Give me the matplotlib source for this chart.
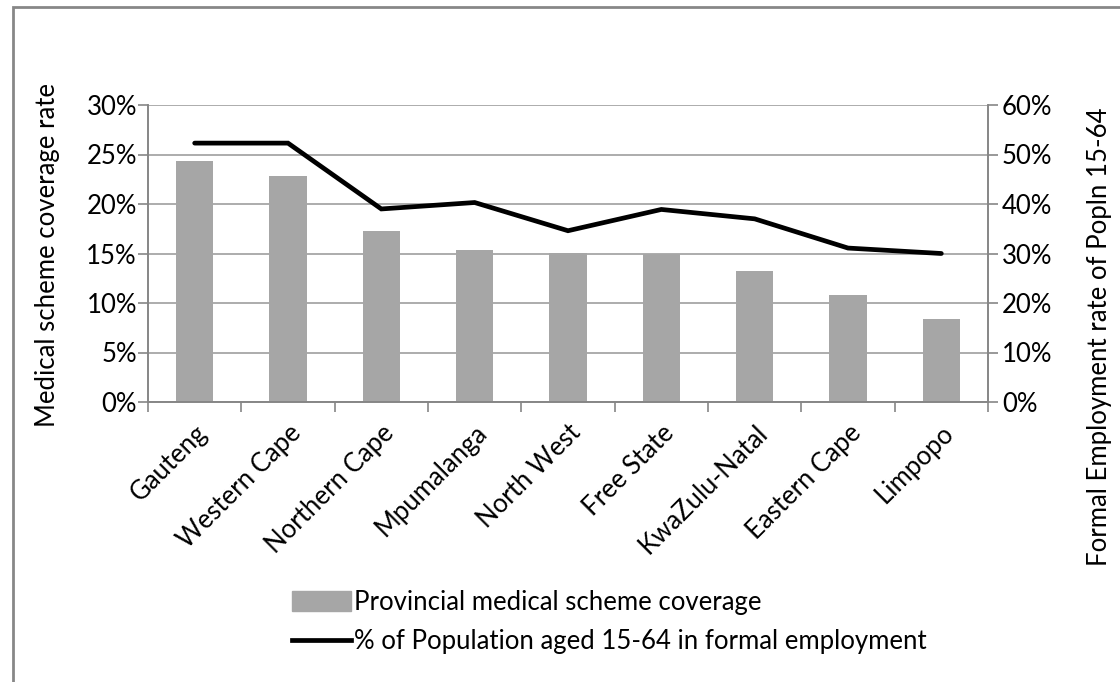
import matplotlib
matplotlib.use("Agg")
import matplotlib.pyplot as plt
from matplotlib.patches import Rectangle
from matplotlib.lines import Line2D
from matplotlib.ticker import FuncFormatter, FixedLocator
import numpy as np

provinces = ["Gauteng", "Western Cape", "Northern Cape", "Mpumalanga", "North West",
             "Free State", "KwaZulu-Natal", "Eastern Cape", "Limpopo"]
coverage = [24.3, 22.8, 17.25, 15.35, 15.05, 14.9, 13.25, 10.8, 8.4]
employment = [52.3, 52.3, 39.0, 40.3, 34.6, 38.9, 37.0, 31.1, 30.0]

plt.rcParams['font.family'] = ['Lato', 'DejaVu Sans']
FS = 18.5
AX = '#868686'
GRID = '#a6a6a6'
BAR = '#a6a6a6'

fig = plt.figure(figsize=(11.2, 6.82), dpi=100)
ax = fig.add_axes([148/1120, (682-402)/682, 840/1120, 297/682])
ax2 = ax.twinx()

x = np.arange(len(provinces))
ax.bar(x, coverage, width=0.4, color=BAR, zorder=2)
ax.set_xlim(-0.5, len(provinces) - 0.5)
ax.set_ylim(0, 30)
ax.set_yticks(np.arange(0, 31, 5))
ax.yaxis.set_major_formatter(FuncFormatter(lambda v, p: f"{v:.0f}%"))
ax.grid(axis='y', color=GRID, linewidth=1.3, zorder=0)
ax.set_axisbelow(True)

ax2.plot(x, employment, color='black', linewidth=3.4, solid_capstyle='round',
         solid_joinstyle='miter', zorder=3)
ax2.set_ylim(0, 60)
ax2.set_yticks(np.arange(0, 61, 10))
ax2.yaxis.set_major_formatter(FuncFormatter(lambda v, p: f"{v:.0f}%"))

ax.set_xticks(x)
ax.set_xticklabels(provinces, rotation=45, ha='right', va='top', fontsize=FS,
                   rotation_mode='anchor')
ax.xaxis.set_minor_locator(FixedLocator(np.arange(-0.5, len(provinces), 1.0)))
ax.tick_params(axis='x', which='major', length=0, pad=13)
ax.tick_params(axis='x', which='minor', length=7, color=AX, width=1.2)
ax.tick_params(axis='y', length=7, color=AX, width=1.2, labelsize=FS, pad=1)
ax2.tick_params(axis='y', length=7, color=AX, width=1.2, labelsize=FS, pad=3)

for a in (ax, ax2):
    a.spines['top'].set_visible(False)
    for s in ('left', 'right', 'bottom'):
        a.spines[s].set_color(AX)
        a.spines[s].set_linewidth(1.2)

fig.text(48/1120, 1 - 255/682, "Medical scheme coverage rate", rotation=90,
         ha='center', va='center', fontsize=FS)
fig.text(1100/1120, 1 - 337/682, "Formal Employment rate of Popln 15-64", rotation=90,
         ha='center', va='center', fontsize=FS)

handles = [Rectangle((0, 0), 1, 1, color=BAR),
           Line2D([0], [0], color='black', linewidth=3.4)]
labels = ["Provincial medical scheme coverage",
          "% of Population aged 15-64 in formal employment"]
fig.legend(handles, labels, loc='center', bbox_to_anchor=(609/1120, 1 - 622/682),
           frameon=False, fontsize=FS, handlelength=2.3, handletextpad=0.1,
           labelspacing=0.55, borderaxespad=0, handleheight=0.8)

# outer border
fig.add_artist(Rectangle((13/1120, -0.01), 1.0, 1 - 7/682 + 0.01, transform=fig.transFigure,
                         fill=False, edgecolor='#878787', linewidth=2))

fig.savefig("out.png", dpi=100)
